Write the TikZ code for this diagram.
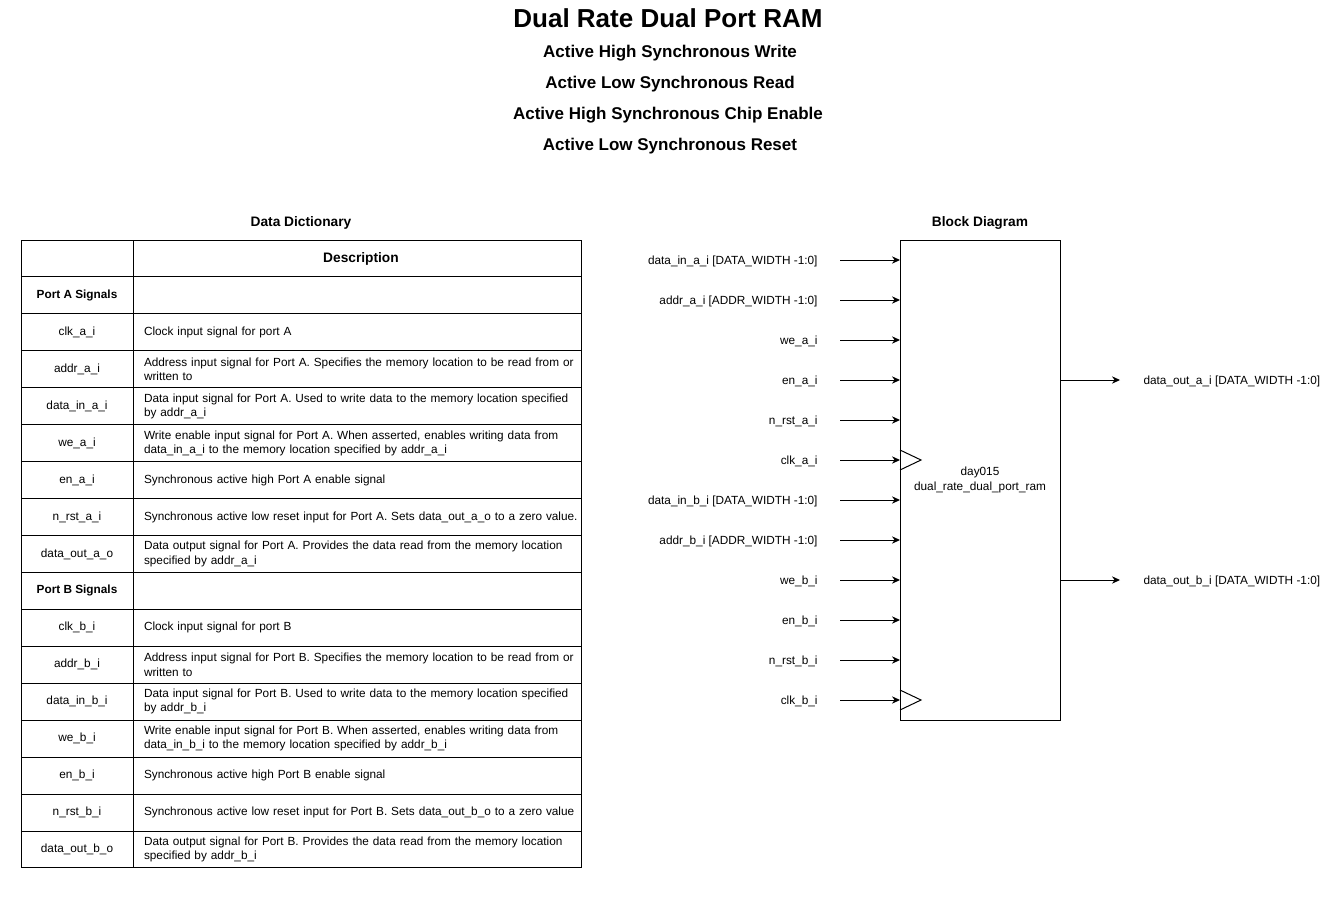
\documentclass[tikz,border=0pt]{standalone}
\usepackage{fontspec}
\setmainfont{Liberation Sans}
\usetikzlibrary{arrows.meta, positioning}

\begin{document}
\begin{tikzpicture}[
        x=0.75pt, y=-0.75pt,
        font=\fontsize{8.85}{10.6}\selectfont,
        line width=0.75pt,
        titletext/.style={font=\bfseries\fontsize{19.5}{23}\selectfont},
        subtext/.style={font=\bfseries\fontsize{12.75}{15}\selectfont},
        headtext/.style={font=\bfseries\fontsize{10.3}{12}\selectfont},
        namecell/.style={
            draw, outer sep=0pt, inner sep=2pt,
            minimum width=84pt,
            minimum height=27.7pt,
            align=center
        },
        groupcell/.style={namecell, font=\bfseries\fontsize{8.85}{10.6}\selectfont},
        headcell/.style={
            draw, outer sep=0pt,
            minimum width=336pt,
            minimum height=27.7pt,
            headtext
        },
        desccell/.style={
            draw, outer sep=0pt,
            inner xsep=0pt, inner ysep=2pt,
            text width=336pt,
            minimum height=27.7pt,
            align=left,
            execute at begin node={\leftskip=8.25pt\hyphenpenalty=10000}
        },
        ramblock/.style={
            draw, outer sep=0pt,
            minimum width=120pt,
            minimum height=360pt,
            align=center
        },
        pinlabel/.style={inner sep=0pt},
        wire/.style={
            -{Stealth[length=6pt, width=5.5pt]}
        }
    ]

    \useasboundingbox (0,0) rectangle (1343,904);

    % titles
    \node[titletext] (title) at (668,18) {Dual Rate Dual Port RAM};
    \node[subtext] (subwrite) at (670,53) {Active High Synchronous Write};
    \node[subtext] (subread) at (670,84) {Active Low Synchronous Read};
    \node[subtext] (subce) at (668,115) {Active High Synchronous Chip Enable};
    \node[subtext] (subrst) at (670,146) {Active Low Synchronous Reset};

    \node[headtext] (ddtitle) at (301,222.5) {Data Dictionary};
    \node[headtext] (bdtitle) at (980,222.5) {Block Diagram};

    % data dictionary
    \node[namecell] (hdname) at (77,258.47) {};
    \node[headcell, right=0pt of hdname] (hddesc) {\hspace*{6pt}Description};

    \node[groupcell] (grpa) at (77,{258.47+36.94}) {Port A Signals};
    \node[desccell, right=0pt of grpa] (grpadesc) {};

    \foreach \sig/\desc [count=\r from 2] in {
        clk\_a\_i/Clock input signal for port A,
        addr\_a\_i/Address input signal for Port A. Specifies the memory location to be read from or\\written to,
        data\_in\_a\_i/Data input signal for Port A. Used to write data to the memory location specified\\by addr\_a\_i,
        we\_a\_i/{Write enable input signal for Port A. When asserted, enables writing data from\\data\_in\_a\_i to the memory location specified by addr\_a\_i},
        en\_a\_i/Synchronous active high Port A enable signal,
        n\_rst\_a\_i/Synchronous active low reset input for Port A. Sets data\_out\_a\_o to a zero value.,
        data\_out\_a\_o/Data output signal for Port A. Provides the data read from the memory location\\specified by addr\_a\_i
    }{
        \node[namecell] (namea\r) at (77,{258.47+36.94*\r}) {\sig};
        \node[desccell, right=0pt of namea\r] (desca\r) {\desc};
    }

    \node[groupcell] (grpb) at (77,{258.47+36.94*9}) {Port B Signals};
    \node[desccell, right=0pt of grpb] (grpbdesc) {};

    \foreach \sig/\desc [count=\r from 10] in {
        clk\_b\_i/Clock input signal for port B,
        addr\_b\_i/Address input signal for Port B. Specifies the memory location to be read from or\\written to,
        data\_in\_b\_i/Data input signal for Port B. Used to write data to the memory location specified\\by addr\_b\_i,
        we\_b\_i/{Write enable input signal for Port B. When asserted, enables writing data from\\data\_in\_b\_i to the memory location specified by addr\_b\_i},
        en\_b\_i/Synchronous active high Port B enable signal,
        n\_rst\_b\_i/Synchronous active low reset input for Port B. Sets data\_out\_b\_o to a zero value,
        data\_out\_b\_o/Data output signal for Port B. Provides the data read from the memory location\\specified by addr\_b\_i
    }{
        \node[namecell] (nameb\r) at (77,{258.47+36.94*\r}) {\sig};
        \node[desccell, right=0pt of nameb\r] (descb\r) {\desc};
    }

    % block diagram
    \node[ramblock] (ram) at (980,480) {day015\\dual\_rate\_dual\_port\_ram};

    \foreach \pin [count=\k] in {
        data\_in\_a\_i [DATA\_WIDTH -1:0],
        addr\_a\_i [ADDR\_WIDTH -1:0],
        we\_a\_i, en\_a\_i, n\_rst\_a\_i, clk\_a\_i,
        data\_in\_b\_i [DATA\_WIDTH -1:0],
        addr\_b\_i [ADDR\_WIDTH -1:0],
        we\_b\_i, en\_b\_i, n\_rst\_b\_i, clk\_b\_i
    }{
        \coordinate (src\k) at (840,{220+40*\k});
        \node[pinlabel, anchor=east] (pin\k) at (818,{221+40*\k}) {\pin};
        \draw[wire] (src\k) -- (ram.west |- src\k);
    }

    % clock marks
    \foreach \k in {6,12}
        \draw (ram.west |- src\k) ++(0,-10) -- ++(21,10) -- ++(-21,10);

    \coordinate (dsta) at (1120,380);
    \coordinate (dstb) at (1120,580);
    \draw[wire] (ram.east |- dsta) -- (dsta);
    \draw[wire] (ram.east |- dstb) -- (dstb);
    \node[pinlabel, anchor=west] (outa) at (1143,381) {data\_out\_a\_i [DATA\_WIDTH -1:0]};
    \node[pinlabel, anchor=west] (outb) at (1143,581) {data\_out\_b\_i [DATA\_WIDTH -1:0]};

\end{tikzpicture}
\end{document}
